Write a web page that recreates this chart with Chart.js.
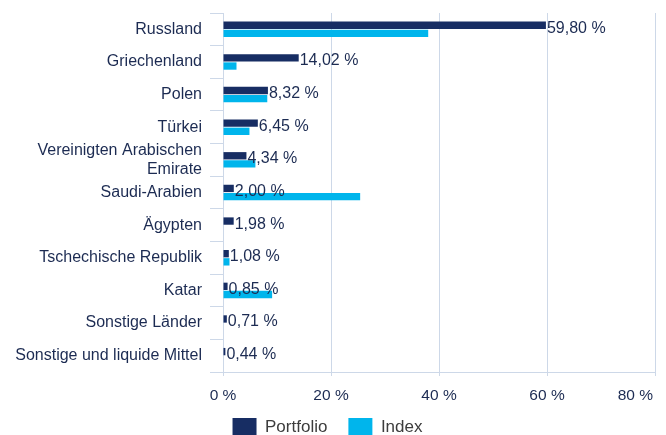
<!DOCTYPE html>
<html>
<head>
<meta charset="utf-8">
<script src="https://cdn.jsdelivr.net/npm/chart.js@4/dist/chart.umd.min.js"></script>
<style>
  html, body { margin: 0; padding: 0; background: #fff; }
  #wrap { width: 666px; height: 435px; }
</style>
</head>
<body>
<div id="wrap"><canvas id="countryChart"></canvas></div>
<script>
const categories = [
  "Russland",
  "Griechenland",
  "Polen",
  "Türkei",
  ["Vereinigten Arabischen", "Emirate"],
  "Saudi-Arabien",
  "Ägypten",
  "Tschechische Republik",
  "Katar",
  "Sonstige Länder",
  "Sonstige und liquide Mittel",
];
const portfolio = [59.8, 14.02, 8.32, 6.45, 4.34, 2.0, 1.98, 1.08, 0.85, 0.71, 0.44];
const indexValues = [38.0, 2.5, 8.2, 4.9, 6.0, 25.4, 0, 1.2, 9.1, 0, 0];
const xTicks = [0, 20, 40, 60, 80];

const NAVY = "#172d63";
const CYAN = "#00b5ec";
const GRID = "#cdd8e8";
const TEXT = "#1c2b52";
const FONT = "'Liberation Sans', Arial, sans-serif";

const fmt = (v) => v.toFixed(2).replace(".", ",") + " %";

// Werte hinter den Portfolio-Balken
const valueLabels = {
  id: "valueLabels",
  afterLayout(chart) {
    // x-Beschriftung darf in den (leeren) Legendenrand ragen
    chart.scales.x.bottom = chart.height;
  },
  beforeDraw(chart) {
    // letzte x-Beschriftung rechtsbündig an die Gitterlinie
    const xScale = chart.scales.x;
    const items = xScale.getLabelItems(chart.chartArea);
    const last = items[items.length - 1];
    if (last) {
      last.options.textAlign = "right";
      last.options.translation[0] = xScale.right - 2;
    }
  },
  afterDatasetsDraw(chart) {
    const ctx = chart.ctx;
    const meta = chart.getDatasetMeta(0);
    const yScale = chart.scales.y;
    ctx.save();
    ctx.font = "16px " + FONT;
    ctx.fillStyle = TEXT;
    ctx.textAlign = "left";
    ctx.textBaseline = "middle";
    meta.data.forEach((bar, i) => {
      ctx.fillText(fmt(portfolio[i]), bar.x + 1, yScale.getPixelForValue(i) - 1);
    });
    ctx.restore();
  },
};

const ctx = document.getElementById("countryChart").getContext("2d");
const chart = new Chart(ctx, {
  type: "bar",
  data: {
    labels: categories,
    datasets: [
      {
        label: "Portfolio",
        data: portfolio,
        backgroundColor: NAVY,
        categoryPercentage: 0.5,
        barPercentage: 0.9,
      },
      {
        label: "Index",
        data: indexValues,
        backgroundColor: CYAN,
        categoryPercentage: 0.5,
        barPercentage: 0.9,
      },
    ],
  },
  options: {
    indexAxis: "y",
    responsive: true,
    maintainAspectRatio: false,
    animation: false,
    layout: { padding: { top: 13, right: 11, left: 0, bottom: 0 } },
    plugins: {
      legend: {
        position: "bottom",
        maxHeight: 38,
        labels: {
          boxWidth: 24,
          boxHeight: 18,
          padding: 21,
          color: "#3c3c3c",
          font: { family: FONT, size: 17 },
        },
      },
      tooltip: { enabled: false },
    },
    scales: {
      x: {
        min: 0,
        max: 80,
        afterBuildTicks: (scale) => {
          scale.ticks = xTicks.map((v) => ({ value: v }));
        },
        afterFit: (scale) => {
          scale.height = 25;
          scale.paddingLeft = 0;
          scale.paddingRight = 0;
        },
        ticks: {
          color: TEXT,
          padding: 10,
          font: { family: FONT, size: 15.5 },
          callback: (v) => v + " %",
        },
        grid: { color: GRID, tickLength: 4, lineWidth: 1 },
        border: { color: GRID },
      },
      y: {
        afterFit: (scale) => {
          scale.width = 223;
          scale.paddingTop = 0;
          scale.paddingBottom = 0;
        },
        ticks: {
          color: TEXT,
          padding: 8,
          autoSkip: false,
          font: { family: FONT, size: 16, lineHeight: 1.2 },
        },
        grid: {
          drawOnChartArea: false,
          drawTicks: true,
          tickLength: 13,
          color: GRID,
          offset: true,
        },
        border: { color: GRID },
      },
    },
  },
  plugins: [valueLabels],
});
</script>
</body>
</html>
